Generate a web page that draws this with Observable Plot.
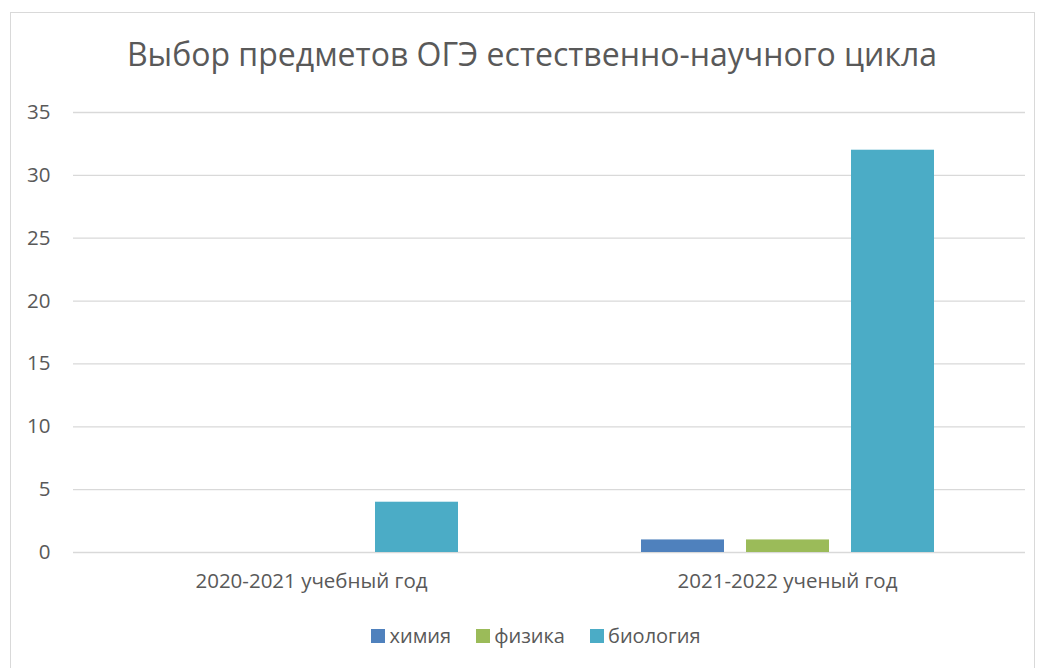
<!DOCTYPE html>
<html><head><meta charset="utf-8">
<script src="https://cdn.jsdelivr.net/npm/d3@7"></script>
<script src="https://cdn.jsdelivr.net/npm/@observablehq/plot@0.6"></script>
<style>
body{margin:0;background:#fff;}
#wrap{position:relative;width:1041px;height:668px;overflow:hidden;font-family:"Open Sans",sans-serif;background:#fff;}
#frame{position:absolute;left:10px;top:12px;width:1023px;height:720px;border:1px solid #d9d9d9;}
#title{position:absolute;left:0;width:1064px;top:32px;text-align:center;font-size:32px;color:#595959;white-space:nowrap;}
#chart{position:absolute;left:0;top:0;}
#legend{position:absolute;left:0;width:1072px;top:622px;display:flex;justify-content:center;gap:25px;font-size:20px;color:#595959;}
#legend .it{display:flex;align-items:center;}
#legend .sw{width:14px;height:14px;margin-right:4px;}
</style></head>
<body>
<div id="wrap">
  <div id="frame"></div>
  <div id="chart"></div>
  <div id="title"></div>
  <div id="legend"></div>
</div>
<script>
const titleText = "Выбор предметов ОГЭ естественно-научного цикла";
const years = ["2020-2021 учебный год", "2021-2022 ученый год"];
const subjects = ["химия", "физика", "биология"];
const colors = ["#4F81BD", "#9BBB59", "#4BACC6"];
const chemistry = [0, 1];
const physics = [0, 1];
const biology = [4, 32];
const yTicks = [0, 5, 10, 15, 20, 25, 30, 35];

const series = [chemistry, physics, biology];
const data = [];
years.forEach((y, i) => subjects.forEach((s, j) => data.push({year: y, subject: s, value: series[j][i]})));

document.getElementById("title").textContent = titleText;

const chart = Plot.plot({
  width: 1041,
  height: 600,
  marginLeft: 73,
  marginRight: 16,
  marginTop: 112,
  marginBottom: 48,
  style: {fontFamily: "'Open Sans', sans-serif", fontSize: "20px", color: "#595959", background: "transparent"},
  fx: {domain: years, padding: 0, label: null},
  x: {domain: subjects, axis: null, paddingInner: 0.21, paddingOuter: 0.87},
  y: {domain: [0, 35], label: null},
  color: {domain: subjects, range: colors},
  marks: [
    Plot.ruleY(yTicks, {stroke: "#d9d9d9", strokeWidth: 1.3}),
    Plot.barY(data, {fx: "year", x: "subject", y: "value", fill: "subject"}),
    Plot.axisY(yTicks, {tickSize: 0, tickPadding: 23, fontSize: 20.5, label: null}),
    Plot.axisFx({anchor: "bottom", tickSize: 0, tickPadding: 21, fontSize: 20.5, label: null})
  ]
});
document.getElementById("chart").appendChild(chart);

const legend = document.getElementById("legend");
subjects.forEach((s, j) => {
  const it = document.createElement("div"); it.className = "it";
  const sw = document.createElement("div"); sw.className = "sw"; sw.style.background = colors[j];
  const tx = document.createElement("span"); tx.textContent = s;
  it.appendChild(sw); it.appendChild(tx); legend.appendChild(it);
});
</script>
</body></html>
